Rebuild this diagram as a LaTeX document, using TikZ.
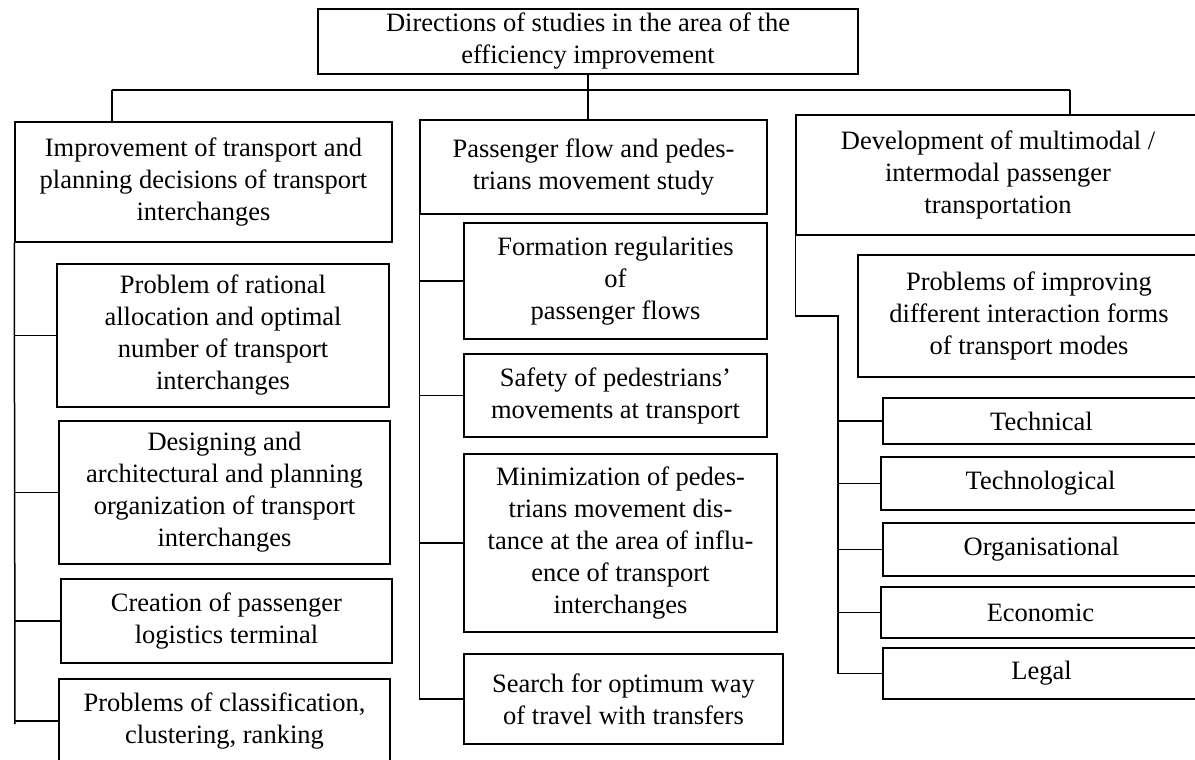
\documentclass[tikz,border=0pt]{standalone}
\usepackage{fontspec}
\setmainfont{Liberation Serif}
\usepackage{tikz}
\usetikzlibrary{calc}

\begin{document}
\begin{tikzpicture}[x=1pt, y=-1pt,
                    line width=1.5pt,
                    box/.style={draw, align=center, inner sep=0pt,
                                font=\fontsize{26.5}{32}\selectfont}
                    ]
    \useasboundingbox (0,0) rectangle (1195,760);

    % top and the three headings
    \node[box, minimum width=540, minimum height=65] (T) at (588,41.5)
        {Directions of studies in the area of the\\ efficiency improvement};
    \node[box, minimum width=377, minimum height=120] (H1) at (203.5,182)
        {Improvement of transport and\\ planning decisions of transport\\ interchanges};
    \node[box, minimum width=347, minimum height=94] (H2) at (593.5,167)
        {Passenger flow and pedes-\\ trians movement study};
    \node[box, minimum width=404, minimum height=120] (H3) at (998,175)
        {Development of multimodal /\\ intermodal passenger\\ transportation};

    % left column
    \node[box, minimum width=332, minimum height=143] (A1) at (223,335.5)
        {Problem of rational\\ allocation and optimal\\ number of transport\\ interchanges};
    \node[box, minimum width=331, minimum height=143] (A2) at (224.5,492.5)
        {Designing and\\ architectural and planning\\ organization of transport\\ interchanges};
    \node[box, minimum width=331, minimum height=84] (A3) at (226.5,621)
        {Creation of passenger\\ logistics terminal};
    \node[box, minimum width=331, minimum height=84] (A4) at (224.5,721)
        {Problems of classification,\\ clustering, ranking};

    % middle column
    \node[box, minimum width=303, minimum height=116] (B1) at (615.5,281)
        {Formation regularities\\ of\\ passenger flows};
    \node[box, minimum width=303, minimum height=83] (B2) at (615.5,395.5)
        {Safety of pedestrians'\\ movements at transport};
    \node[box, minimum width=313, minimum height=178] (B3) at (620.5,543)
        {Minimization of pedes-\\ trians movement dis-\\ tance at the area of influ-\\ ence of transport\\ interchanges};
    \node[box, minimum width=319, minimum height=90] (B4) at (623.5,699)
        {Search for optimum way\\ of travel with transfers};

    % right column
    \node[box, minimum width=342, minimum height=122] (C0) at (1029,316)
        {Problems of improving\\ different interaction forms\\ of transport modes};
    \node[box, minimum width=317, minimum height=46] (C1) at (1041.5,421) {Technical};
    \node[box, minimum width=319, minimum height=53] (C2) at (1040.5,483.5) {Technological};
    \node[box, minimum width=317, minimum height=53] (C3) at (1041.5,549.5) {Organisational};
    \node[box, minimum width=319, minimum height=51] (C4) at (1040.5,612.5) {Economic};
    \node[box, minimum width=317, minimum height=51] (C5) at (1041.5,673.5) {Legal};

    % bus under the top box
    \coordinate (busL) at (112,90);
    \coordinate (busR) at (1070,90);
    \coordinate (endL) at (15,724);
    \coordinate (knee) at (838,316);

    \draw (busL) -- (busR);
    \draw (busL) -- (busL |- H1.north);
    \draw (busR) -- (busR |- H3.north);
    \draw (T.south) -- (T.south |- H2.north);

    % spines
    \draw (H1.south west) -- (endL);
    \foreach \i in {1,...,4}
        \draw (A\i.west) -- (A\i.west -| H1.west);

    \draw (H2.south west) |- (B4.west);
    \foreach \i in {1,...,3}
        \draw (B\i.west) -- (B\i.west -| H2.west);

    \draw (H3.south west) |- (knee) |- (C5.west);
    \foreach \i in {1,...,4}
        \draw (C\i.west) -- (C\i.west -| knee);
\end{tikzpicture}
\end{document}
